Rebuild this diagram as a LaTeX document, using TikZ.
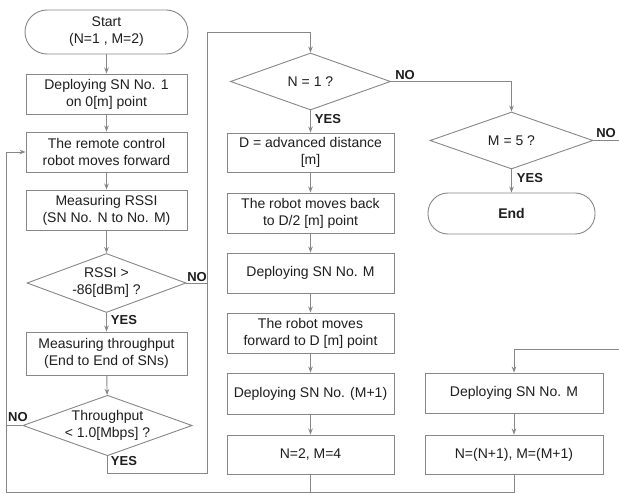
\documentclass[tikz,border=0pt]{standalone}
\usepackage{fontspec}
\setmainfont{Liberation Sans}
\usetikzlibrary{shapes.geometric,arrows.meta}
\definecolor{ln}{RGB}{135,135,135}
\definecolor{tx}{RGB}{30,30,30}
\begin{document}
\begin{tikzpicture}[x=1pt,y=-1pt,
  every node/.style={text=tx,font=\fontsize{14}{17}\selectfont},
  box/.style={draw=ln,line width=0.9pt,rectangle,align=center,inner sep=0pt,minimum height=40pt},
  lbox/.style={box,minimum width=161pt},
  mbox/.style={box,minimum width=167pt},
  rbox/.style={box,minimum width=178pt},
  term/.style={draw=ln,line width=0.9pt,rectangle,rounded corners=20pt,align=center,inner sep=0pt},
  dia/.style={draw=ln,line width=0.9pt,diamond,align=center,inner sep=0pt,aspect=2.8},
  lab/.style={font=\bfseries\fontsize{13}{15}\selectfont,inner sep=0pt},
  flow/.style={draw=ln,line width=0.9pt,-{Stealth[length=6pt,width=4.5pt]}},
  wire/.style={draw=ln,line width=0.9pt}
]
\useasboundingbox (0,0) rectangle (619,494);
\fill[white] (0,0) rectangle (619,494);

% left column
\node[term,minimum width=163pt,minimum height=44pt,rounded corners=22pt] (start) at (106.5,32) {Start\\(N=1 , M=2)};
\node[lbox] (d1) at (106.5,94) {Deploying SN No. 1\\on 0[m] point};
\node[lbox] (rc) at (106.5,152) {The remote control\\robot moves forward};
\node[lbox] (rssi) at (106.5,210) {Measuring RSSI\\(SN No. N to No. M)};
\node[dia,minimum width=159pt,minimum height=59pt] (drssi) at (106.5,283) {RSSI >\\-86[dBm] ?};
\node[lbox,minimum height=43pt] (tp) at (106.5,353.5) {Measuring throughput\\(End to End of SNs)};
\node[dia,minimum width=155pt,minimum height=55pt] (dtp) at (107.5,425.5) {Throughput\\< 1.0[Mbps] ?};

% middle column
\node[dia,minimum width=160pt,minimum height=57pt] (dn1) at (310.5,81.5) {N = 1 ?};
\node[mbox,minimum height=39pt] (adv) at (310.5,152.5) {D = advanced distance\\{[m]}};
\node[mbox] (back) at (310.5,213) {The robot moves back\\to D/2 [m] point};
\node[mbox] (depm) at (310.5,273) {Deploying SN No. M};
\node[mbox] (fwd) at (310.5,333) {The robot moves\\forward to D [m] point};
\node[mbox,minimum height=41pt] (depm1) at (310.5,393.5) {Deploying SN No. (M+1)};
\node[mbox,minimum height=39pt] (n2) at (310.5,454.5) {N=2, M=4};

% right column
\node[dia,minimum width=163pt,minimum height=57pt] (dm5) at (511.5,140.5) {M = 5 ?};
\node[term,minimum width=167pt,minimum height=41pt,font=\bfseries\fontsize{14}{17}\selectfont] (end) at (511.5,213.5) {End};
\node[rbox] (rdep) at (514,393) {Deploying SN No. M};
\node[rbox,minimum height=39pt] (rn) at (514,454.5) {N=(N+1), M=(M+1)};

% coordinates
\coordinate (tpA) at (107.5,473);
\coordinate (tpB) at (207,473);
\coordinate (upT) at (207,32);
\coordinate (upR) at (310.5,32);
\coordinate (rssiR) at (207,283);
\coordinate (lbot) at (6,492);
\coordinate (lmid) at (6,425.5);
\coordinate (ltop) at (6,152);
\coordinate (n2b) at (310.5,492);
\coordinate (rnb) at (514,492);
\coordinate (n1R) at (511.5,81.5);
\coordinate (m5R) at (619.6,140.5);
\coordinate (m5D) at (619.6,349);
\coordinate (rdT) at (514,349);

% connectors
\draw[flow] (start) -- (d1);
\draw[flow] (d1) -- (rc);
\draw[flow] (rc) -- (rssi);
\draw[flow] (rssi) -- (drssi);
\draw[flow] (drssi) -- (tp);
\draw[flow] (tp) -- (dtp);
\draw[wire] (drssi.east) -- (rssiR);
\draw[flow] (dtp.south) -- (tpA) -- (tpB) -- (upT) -- (upR) -- (dn1.north);
\draw[wire] (dtp.west) -- (lmid);
\draw[wire] (rn.south) -- (rnb) -- (lbot);
\draw[wire] (n2.south) -- (n2b);
\draw[flow] (lbot) -- (ltop) -- (rc.west);

\draw[flow] (dn1) -- (adv);
\draw[flow] (adv) -- (back);
\draw[flow] (back) -- (depm);
\draw[flow] (depm) -- (fwd);
\draw[flow] (fwd) -- (depm1);
\draw[flow] (depm1) -- (n2);

\draw[flow] (dn1.east) -- (n1R) -- (dm5.north);
\draw[flow] (dm5) -- (end);
\draw[flow] (dm5.east) -- (m5R) -- (m5D) -- (rdT) -- (rdep.north);
\draw[flow] (rdep) -- (rn);

% labels
\node[lab] (l1) at (197,277) {NO};
\node[lab] (l2) at (124,320) {YES};
\node[lab] (l3) at (18,417) {NO};
\node[lab] (l4) at (124,461) {YES};
\node[lab] (l5) at (328,119) {YES};
\node[lab] (l6) at (405,75) {NO};
\node[lab] (l7) at (530,178) {YES};
\node[lab] (l8) at (606,133) {NO};
\end{tikzpicture}
\end{document}
